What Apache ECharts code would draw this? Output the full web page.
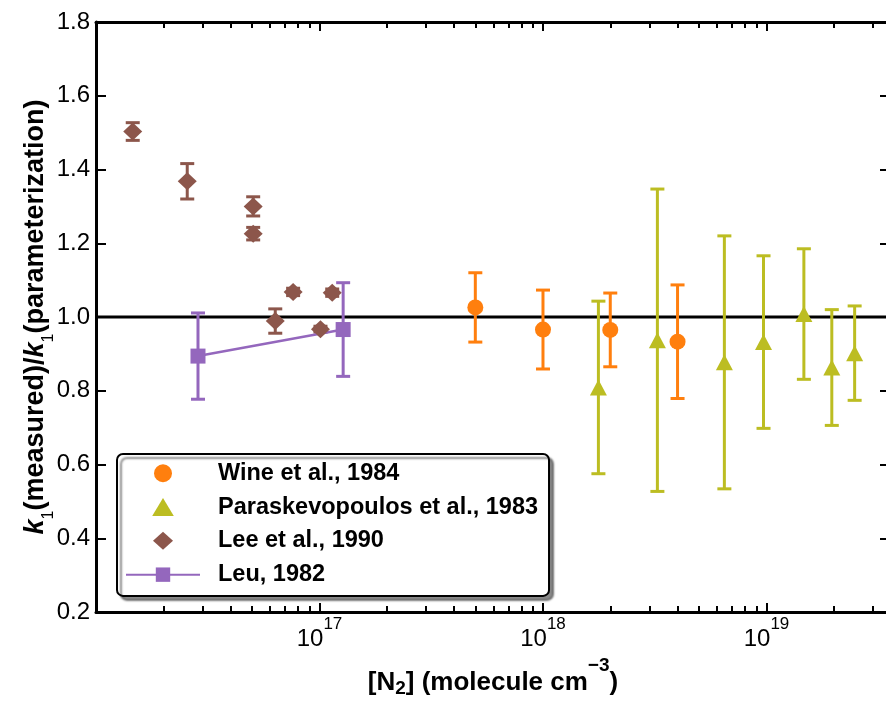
<!DOCTYPE html>
<html>
<head>
<meta charset="utf-8">
<script src="https://cdn.jsdelivr.net/npm/echarts@6/dist/echarts.min.js"></script>
<style>
html,body{margin:0;padding:0;background:#fff;}
#chart{width:886px;height:704px;}
</style>
</head>
<body>
<div id="chart"></div>
<script>
// ---- data ----
const wineX = [4.98e17, 1.0e18, 2.0e18, 4.0e18];
const wineY = [1.026, 0.966, 0.965, 0.933];
const wineErr = [0.094, 0.107, 0.100, 0.154];

const paraX = [1.77e18, 3.25e18, 6.48e18, 9.7e18, 1.47e19, 1.96e19, 2.48e19];
const paraY = [0.809, 0.937, 0.877, 0.932, 1.008, 0.863, 0.902];
const paraErr = [0.234, 0.410, 0.343, 0.234, 0.177, 0.157, 0.128];

const leeX = [1.46e16, 2.56e16, 5.05e16, 5.05e16, 6.34e16, 7.62e16, 1.01e17, 1.14e17];
const leeY = [1.503, 1.368, 1.300, 1.226, 0.989, 1.068, 0.967, 1.066];
const leeErr = [0.024, 0.048, 0.026, 0.017, 0.033, 0.010, 0.008, 0.010];

const leuX = [2.86e16, 1.276e17];
const leuY = [0.894, 0.966];
const leuErr = [0.117, 0.127];

const refY = 1.0;
const xMin = 1e16, xMax = 3.57e19;
const yMin = 0.2, yMax = 1.8, yStep = 0.2;

const names = ['Wine et al., 1984', 'Paraskevopoulos et al., 1983', 'Lee et al., 1990', 'Leu, 1982'];
const colors = ['#ff7f0e', '#bcbd22', '#8c564b', '#9467bd'];

const FONT = "'Liberation Sans', Arial, Helvetica, sans-serif";

// minor tick positions (log10 space)
const minorTicks = [];
for (let n = 16; n <= 19; n++) {
  for (let k = 2; k <= 9; k++) {
    const v = n + Math.log10(k);
    if (v < Math.log10(xMax)) minorTicks.push(v);
  }
}

function pts(xs, ys) { return xs.map((x, i) => [x, ys[i]]); }
function errs(xs, ys, es) { return xs.map((x, i) => [x, ys[i] - es[i], ys[i] + es[i]]); }

function errRender(color) {
  return function (params, api) {
    const x = api.value(0), lo = api.value(1), hi = api.value(2);
    const a = api.coord([x, lo]), b = api.coord([x, hi]);
    const hw = 7;
    const st = { stroke: color, lineWidth: 3 };
    return {
      type: 'group',
      children: [
        { type: 'line', shape: { x1: a[0], y1: a[1], x2: b[0], y2: b[1] }, style: st },
        { type: 'line', shape: { x1: a[0] - hw, y1: a[1], x2: a[0] + hw, y2: a[1] }, style: st },
        { type: 'line', shape: { x1: b[0] - hw, y1: b[1], x2: b[0] + hw, y2: b[1] }, style: st }
      ]
    };
  };
}

function errSeries(name, xs, ys, es, color) {
  return {
    name: name, type: 'custom', xAxisIndex: 0, yAxisIndex: 0, z: 2,
    renderItem: errRender(color),
    encode: { x: 0, y: [1, 2] },
    data: errs(xs, ys, es),
    silent: true
  };
}

const axisLineStyle = { color: '#000', width: 3 };
const tickStyle = { color: '#000', width: 2 };

const xLabelRich = {
  b: { fontSize: 24, lineHeight: 35.5, verticalAlign: 'bottom', fontFamily: FONT, color: '#000' },
  s: { fontSize: 17, lineHeight: 17, verticalAlign: 'top', fontFamily: FONT, color: '#000' }
};

const chart = echarts.init(document.getElementById('chart'), null, { renderer: 'canvas' });

const option = {
  animation: false,
  backgroundColor: '#fff',
  textStyle: { fontFamily: FONT },
  grid: { left: 96, right: -4, top: 22, bottom: 92, containLabel: false, outerBoundsMode: 'none' },
  xAxis: [
    {
      type: 'log', logBase: 10, min: xMin, max: xMax, position: 'bottom',
      axisLine: { show: true, onZero: false, lineStyle: axisLineStyle },
      axisTick: { show: true, inside: true, length: 9, lineStyle: tickStyle },
      axisLabel: {
        show: true, showMinLabel: false, showMaxLabel: false, margin: 3.5,
        formatter: function (v) { return '{b|10}{s|' + Math.round(Math.log10(v)) + '}'; },
        rich: xLabelRich
      },
      splitLine: { show: false },
      name: '{b|[N}{sub|2}{b|] (molecule cm}{sup|\u22123}{b|)}',
      nameLocation: 'middle', nameGap: 44, nameMoveOverlap: false,
      nameTextStyle: {
        rich: {
          b: { fontSize: 26, fontWeight: 'bold', lineHeight: 26, verticalAlign: 'top', padding: [13.5, 0, 0, 0], fontFamily: FONT, color: '#000' },
          sup: { fontSize: 19, fontWeight: 'bold', lineHeight: 19, verticalAlign: 'top', fontFamily: FONT, color: '#000' },
          sub: { fontSize: 19, fontWeight: 'bold', lineHeight: 19, verticalAlign: 'top', padding: [23.5, 0, 0, 0], fontFamily: FONT, color: '#000' }
        }
      }
    },
    {
      type: 'value', min: Math.log10(xMin), max: Math.log10(xMax), position: 'bottom',
      axisLine: { show: false, onZero: false },
      axisTick: { show: true, inside: true, length: 6, lineStyle: tickStyle, customValues: minorTicks },
      axisLabel: { show: false }, splitLine: { show: false }
    },
    {
      type: 'log', logBase: 10, min: xMin, max: xMax, position: 'top',
      axisLine: { show: true, onZero: false, lineStyle: axisLineStyle },
      axisTick: { show: true, inside: true, length: 9, lineStyle: tickStyle },
      axisLabel: { show: false }, splitLine: { show: false }
    },
    {
      type: 'value', min: Math.log10(xMin), max: Math.log10(xMax), position: 'top',
      axisLine: { show: false, onZero: false },
      axisTick: { show: true, inside: true, length: 6, lineStyle: tickStyle, customValues: minorTicks },
      axisLabel: { show: false }, splitLine: { show: false }
    }
  ],
  yAxis: [
    {
      type: 'value', min: yMin, max: yMax, interval: yStep, position: 'left',
      axisLine: { show: true, onZero: false, lineStyle: axisLineStyle },
      axisTick: { show: true, inside: true, length: 10, lineStyle: tickStyle },
      axisLabel: { show: true, margin: 6, fontSize: 24, color: '#000', fontFamily: FONT,
        formatter: function (v) { return v.toFixed(1); } },
      splitLine: { show: false },
      name: '{k|k}{s|1}{b|(measured)/}{k|k}{s|1}{b|(parameterization)}',
      nameLocation: 'middle', nameGap: 47, nameMoveOverlap: false,
      nameTextStyle: {
        rich: {
          k: { fontSize: 27, fontWeight: 'bold', fontStyle: 'italic', lineHeight: 27, verticalAlign: 'top', fontFamily: FONT, color: '#000' },
          b: { fontSize: 27, fontWeight: 'bold', lineHeight: 27, verticalAlign: 'top', fontFamily: FONT, color: '#000' },
          s: { fontSize: 16, lineHeight: 16, verticalAlign: 'top', padding: [18.5, 0, 0, 0], fontFamily: FONT, color: '#000' }
        }
      }
    },
    {
      type: 'value', min: yMin, max: yMax, interval: yStep, position: 'right',
      axisLine: { show: true, onZero: false, lineStyle: axisLineStyle },
      axisTick: { show: true, inside: true, length: 10, lineStyle: tickStyle },
      axisLabel: { show: false }, splitLine: { show: false }
    }
  ],
  legend: {
    data: [
      { name: names[0] },
      { name: names[1], icon: 'path://M0,15L9,0L18,15Z' },
      { name: names[2], icon: 'path://M0,9L10,0L20,9L10,18Z' },
      { name: names[3] }
    ],
    orient: 'vertical', left: 117, top: 454,
    padding: [7.25, 11, 9.25, 8],
    itemWidth: 74, itemHeight: 18, itemGap: 9.8,
    symbolKeepAspect: true,
    backgroundColor: '#fff', borderColor: '#000', borderWidth: 2, borderRadius: 6,
    shadowColor: 'rgba(0,0,0,0.45)', shadowBlur: 2, shadowOffsetX: 4, shadowOffsetY: 4,
    textStyle: { fontSize: 23.5, fontWeight: 'bold', color: '#000', fontFamily: FONT, padding: [0, 0, 0, 13] },
    selectedMode: false
  },
  series: [
    {
      name: 'reference', type: 'line', xAxisIndex: 0, yAxisIndex: 0, z: 1,
      data: [[xMin, refY], [xMax, refY]], symbol: 'none',
      lineStyle: { color: '#000', width: 3 }, silent: true
    },
    errSeries('wine-err', wineX, wineY, wineErr, colors[0]),
    errSeries('para-err', paraX, paraY, paraErr, colors[1]),
    errSeries('lee-err', leeX, leeY, leeErr, colors[2]),
    errSeries('leu-err', leuX, leuY, leuErr, colors[3]),
    {
      name: names[0], type: 'scatter', xAxisIndex: 0, yAxisIndex: 0, z: 3,
      data: pts(wineX, wineY), symbol: 'circle', symbolSize: 16,
      itemStyle: { color: colors[0], opacity: 1 }
    },
    {
      name: names[1], type: 'scatter', xAxisIndex: 0, yAxisIndex: 0, z: 3,
      data: pts(paraX, paraY), symbol: 'triangle', symbolSize: [17, 16],
      itemStyle: { color: colors[1], opacity: 1 }
    },
    {
      name: names[3], type: 'line', xAxisIndex: 0, yAxisIndex: 0, z: 3,
      data: pts(leuX, leuY), symbol: 'rect', symbolSize: 15, showSymbol: true,
      lineStyle: { color: colors[3], width: 2.5 },
      itemStyle: { color: colors[3] }
    },
    {
      name: names[2], type: 'scatter', xAxisIndex: 0, yAxisIndex: 0, z: 4,
      data: pts(leeX, leeY), symbol: 'diamond', symbolSize: [19, 18],
      itemStyle: { color: colors[2], opacity: 1 }
    }
  ]
};

chart.setOption(option);
</script>
</body>
</html>
